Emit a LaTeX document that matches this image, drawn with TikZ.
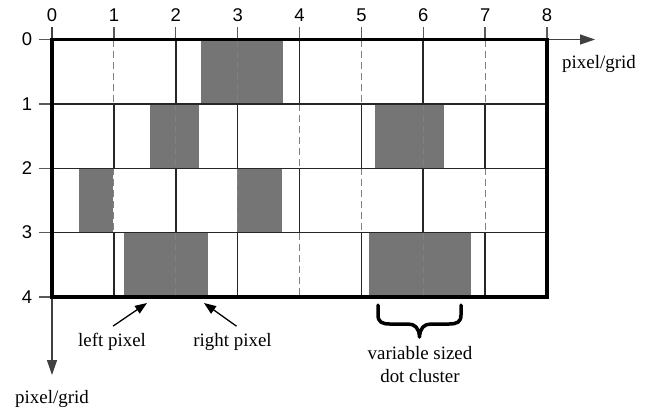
\documentclass[tikz,border=0pt]{standalone}
\usepackage{fontspec}
\setmainfont{Liberation Serif}
\newfontfamily\numfont{Liberation Sans}
\usetikzlibrary{arrows.meta}

\begin{document}
\begin{tikzpicture}[x=1bp,y=-1bp,
  border/.style={line width=3.2bp, black},
  rowline/.style={line width=1.4bp, black!85},
  pixline/.style={line width=1.6bp, black!85},
  gridline/.style={line width=1.2bp, black!50, dash pattern=on 7bp off 4bp},
  dotfill/.style={fill=black!54},
  tickline/.style={line width=1.3bp, black!65},
  axisline/.style={line width=1.3bp, black!75, -{Triangle[length=15bp,width=10bp]}},
  lab/.style={font=\fontsize{19}{23}\selectfont, inner sep=0pt},
  num/.style={font=\numfont\fontsize{18.5}{20}\selectfont, inner sep=0pt},
  pointer/.style={line width=1.3bp, black, -{Triangle[length=12bp,width=9bp]}},
  bracestroke/.style={line width=3.5bp, black, line cap=round, line join=round}
]
\useasboundingbox (0,0) rectangle (652,416);

% ---- pixel grid, in grid units ----
\begin{scope}[shift={(52,39.5)}, x=61.875bp, y=-64.375bp]
  % dot clusters
  \fill[dotfill] (2.403,0) rectangle (3.728,1);
  \fill[dotfill] (1.579,1) rectangle (2.371,2);
  \fill[dotfill] (5.220,1) rectangle (6.335,2);
  \fill[dotfill] (0.431,2) rectangle (0.991,3);
  \fill[dotfill] (2.985,2) rectangle (3.712,3);
  \fill[dotfill] (1.164,3) rectangle (2.516,4);
  \fill[dotfill] (5.123,3) rectangle (6.772,4);

  % pixel boundaries (solid) and grid lines (dashed), alternating per row
  \foreach \r in {0,2} {
    \foreach \c in {2,4,6} \draw[pixline] (\c,\r) -- (\c,\r+1);
    \foreach \c in {1,3,5,7} \draw[gridline] (\c,\r) -- (\c,\r+1);
  }
  \foreach \r in {1,3} {
    \foreach \c in {1,3,5,7} \draw[pixline] (\c,\r) -- (\c,\r+1);
    \foreach \c in {2,4,6} \draw[gridline] (\c,\r) -- (\c,\r+1);
  }
  \foreach \r in {1,2,3} \draw[rowline] (0,\r) -- (8,\r);

  % ticks and numbers
  \foreach \c in {0,...,8} {
    \draw[tickline] (\c,0) -- (\c,-0.194);
    \node[num] (col\c) at (\c,-0.38) {\c};
  }
  \foreach \r in {0,...,4} {
    \draw[tickline] (0,\r) -- (-0.21,\r);
    \node[num] (row\r) at (-0.405,\r) {\r};
  }

  % axes
  \coordinate (xorig) at (8,0);
  \coordinate (xtip) at (8.776,0);
  \coordinate (ytop) at (0,-0.2);
  \coordinate (ytip) at (0,5.212);
  \draw[axisline] (xorig) -- (xtip);
  \draw[axisline] (ytop) -- (ytip);

  \draw[border] (0,0) rectangle (8,4);
\end{scope}

% ---- axis labels ----
\node[lab] (xlab) at (599,64) {pixel/grid};
\node[lab] (ylab) at (52,399) {pixel/grid};

% ---- pixel pointers ----
\node[lab] (lp) at (112,342) {left pixel};
\node[lab] (rp) at (232.5,342) {right pixel};
\coordinate (lptip) at (147,303);
\coordinate (rptip) at (204,303);
\draw[pointer] ([xshift=1bp,yshift=7bp]lp.north) -- (lptip);
\draw[pointer] ([xshift=4bp,yshift=7bp]rp.north) -- (rptip);

% ---- brace and cluster label ----
\draw[bracestroke] (378,305) -- (378,315) .. controls (378,322) and (382,324) .. (390,324)
  -- (408,324) .. controls (415,324) and (419,328) .. (419.5,337)
  .. controls (420,328) and (424,324) .. (431,324)
  -- (449,324) .. controls (457,324) and (461,322) .. (461,315) -- (461,305);
\node[lab, align=center, anchor=north] (cluster) at (420,346) {variable sized\\dot cluster};
\end{tikzpicture}
\end{document}
